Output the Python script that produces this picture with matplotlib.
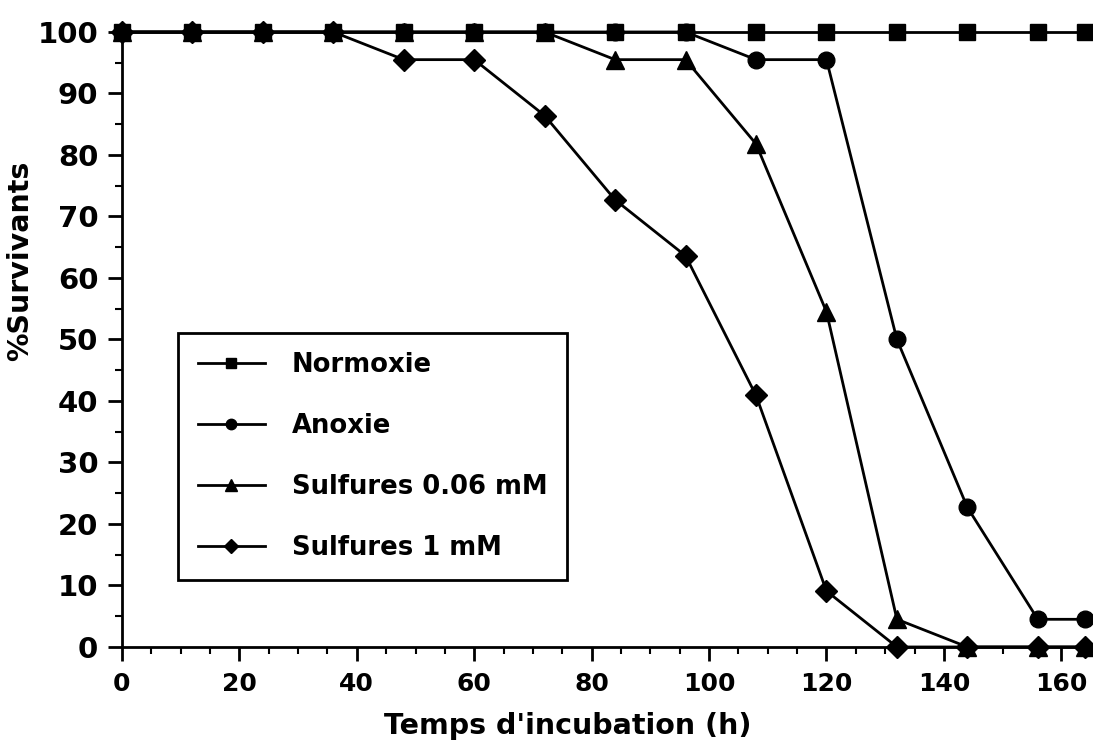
import matplotlib
matplotlib.use("Agg")
import matplotlib.pyplot as plt
from matplotlib.ticker import MultipleLocator

# Incubation times (h) and survival (%) for each condition
hours = [0, 12, 24, 36, 48, 60, 72, 84, 96, 108, 120, 132, 144, 156, 164]
normoxie = [100, 100, 100, 100, 100, 100, 100, 100, 100, 100, 100, 100, 100, 100, 100]
anoxie = [100, 100, 100, 100, 100, 100, 100, 100, 100, 95.5, 95.5, 50.0, 22.7, 4.5, 4.5]
sulf_006 = [100, 100, 100, 100, 100, 100, 100, 95.5, 95.5, 81.8, 54.5, 4.5, 0, 0, 0]
sulf_1 = [100, 100, 100, 100, 95.5, 95.5, 86.4, 72.7, 63.6, 40.9, 9.1, 0, 0, 0, 0]

labels = ["Normoxie", "Anoxie", "Sulfures 0.06 mM", "Sulfures 1 mM"]
x_ticks = [0, 20, 40, 60, 80, 100, 120, 140, 160]
y_ticks = [0, 10, 20, 30, 40, 50, 60, 70, 80, 90, 100]

plt.rcParams["font.family"] = ["DejaVu Sans"]
plt.rcParams["font.weight"] = "bold"

fig = plt.figure(figsize=(10.93, 7.47), dpi=100)
ax = fig.add_axes([0.1116, 0.1339, 0.8884, 0.8233])

series = [
    (sulf_1, "D", 11, 7),
    (sulf_006, "^", 13, 8),
    (anoxie, "o", 12, 7.5),
    (normoxie, "s", 12, 7),
]
handles = {}
for (vals, mk, ms, lms), lab in zip(series, labels[::-1]):
    ax.plot(hours, vals, color="black", lw=2.0, marker=mk, ms=ms,
            mfc="black", mec="black", clip_on=False, zorder=3)
    handles[lab] = ax.plot([], [], color="black", lw=2.0, marker=mk, ms=lms,
                           mfc="black", mec="black")[0]

ax.set_xlim(0, 165.4)
ax.set_ylim(0, 100)
ax.set_xticks(x_ticks)
ax.set_yticks(y_ticks)
ax.xaxis.set_minor_locator(MultipleLocator(5))
ax.yaxis.set_minor_locator(MultipleLocator(5))

for s in ["top", "right"]:
    ax.spines[s].set_visible(False)
for s in ["left", "bottom"]:
    ax.spines[s].set_linewidth(2.0)

ax.tick_params(axis="both", which="major", direction="out", length=10,
               width=2.0, pad=7)
ax.tick_params(axis="x", which="major", labelsize=18, pad=8)
ax.tick_params(axis="y", which="major", labelsize=21)
ax.tick_params(axis="both", which="minor", direction="out", length=5,
               width=1.5)

ax.set_xlabel("Temps d'incubation (h)", fontsize=20.5, fontweight="bold")
ax.set_ylabel("%Survivants", fontsize=20.5, fontweight="bold")
ax.xaxis.set_label_coords(0.459, -0.105)
ax.yaxis.set_label_coords(-0.09, 0.628)

leg = ax.legend([handles[l] for l in labels], labels, loc="upper left",
                bbox_to_anchor=(0.058, 0.511), frameon=True, fancybox=False,
                edgecolor="black", framealpha=1, fontsize=18.6,
                handlelength=2.6, handletextpad=1.05, labelspacing=1.35,
                borderpad=0.75, borderaxespad=0)
leg.get_frame().set_linewidth(2.0)
for t in leg.get_texts():
    t.set_fontweight("bold")

fig.savefig("out.png", dpi=100)
